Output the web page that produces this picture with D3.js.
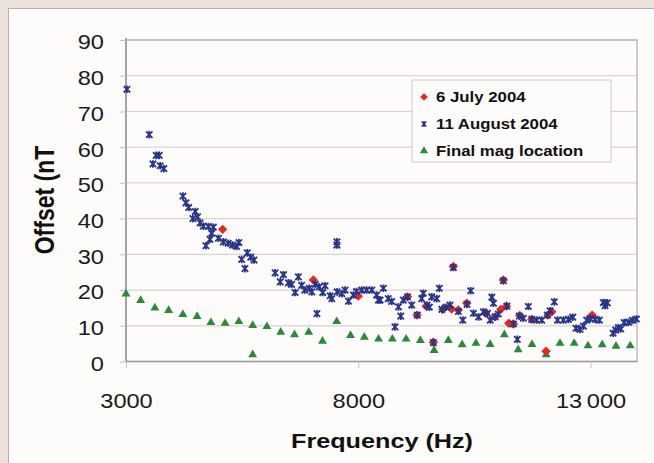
<!DOCTYPE html>
<html><head><meta charset="utf-8">
<script src="https://cdn.jsdelivr.net/npm/d3@7"></script>
<style>body{margin:0;background:#ece2db;}svg{display:block;}</style>
</head><body><svg id="c" width="654" height="463"></svg>
<script>
const yTicks = [0,10,20,30,40,50,60,70,80,90];
const xTicks = [3000,8000,13000];
const xTickLabels = ["3000","8000","13\u2009000"];
const seriesNames = ["6 July 2004","11 August 2004","Final mag location"];

const july = [[5080,37.0],[7033,22.8],[8000,18.3],[9060,18.1],[9265,13.0],[9460,15.5],[9617,5.4],[9820,14.6],[10010,14.7],[10047,26.6],[10155,14.4],[10336,16.3],[10745,13.5],[10945,12.5],[11070,14.6],[11123,22.8],[11190,15.5],[11240,10.7],[11340,10.5],[11475,12.9],[11733,11.8],[12042,2.9],[12085,13.0],[12166,13.9],[13035,13.0]];

const august = [[3020,76.2],[3500,63.5],[3580,55.3],[3650,57.7],[3715,57.7],[3735,54.8],[3815,54.0],[4225,46.3],[4290,44.4],[4350,43.1],[4440,40.0],[4490,42.0],[4540,40.5],[4595,38.8],[4665,37.9],[4720,32.4],[4775,37.8],[4808,34.2],[4845,35.9],[4880,37.6],[4990,34.5],[5095,33.5],[5200,33.1],[5295,32.6],[5380,32.2],[5430,33.3],[5490,28.6],[5560,26.0],[5610,30.4],[5685,29.2],[5755,28.4],[6210,24.8],[6320,22.3],[6390,24.3],[6495,22.0],[6565,21.6],[6640,19.3],[6710,23.7],[6780,21.3],[6850,20.0],[6945,20.5],[7000,19.5],[7075,21.6],[7110,13.4],[7160,20.9],[7235,19.3],[7285,21.2],[7395,18.4],[7430,17.6],[7540,33.5],[7540,32.6],[7545,19.5],[7645,19.0],[7715,20.0],[7790,16.9],[7895,18.6],[7960,19.6],[8075,20.0],[8180,20.0],[8290,20.0],[8395,18.6],[8435,17.2],[8470,17.2],[8540,20.5],[8645,17.6],[8720,16.8],[8790,9.7],[8865,15.3],[8915,12.7],[8970,17.2],[9060,18.1],[9150,15.8],[9270,13.0],[9365,17.6],[9400,19.1],[9480,15.8],[9530,15.2],[9580,18.1],[9617,5.3],[9690,17.6],[9745,20.5],[9800,14.6],[9890,15.2],[9975,15.8],[10047,26.3],[10155,14.0],[10250,11.6],[10340,16.0],[10420,19.8],[10480,13.5],[10590,12.5],[10695,13.9],[10780,13.5],[10840,11.6],[10875,18.0],[10910,16.3],[10945,12.5],[11015,13.3],[11123,22.6],[11200,15.5],[11340,10.5],[11424,6.2],[11467,12.7],[11553,12.1],[11661,15.4],[11733,11.8],[11841,11.6],[11949,11.6],[12070,13.0],[12128,14.2],[12220,16.7],[12290,11.6],[12415,11.6],[12523,11.8],[12617,12.4],[12688,9.3],[12774,9.0],[12846,9.9],[12918,11.6],[12990,12.0],[13097,11.8],[13190,11.6],[13276,16.5],[13312,15.6],[13362,16.4],[13485,7.9],[13541,8.8],[13600,9.5],[13650,9.1],[13723,10.9],[13816,11.0],[13902,11.5],[13988,11.9]];

const finalMag = [[3000,18.9],[3315,17.1],[3621,15.0],[3918,14.3],[4224,13.2],[4530,12.6],[4827,10.9],[5133,10.7],[5430,11.2],[5727,10.1],[5727,1.9],[6033,9.8],[6330,8.2],[6627,7.5],[6933,8.2],[7230,5.7],[7536,11.2],[7833,7.3],[8130,6.8],[8436,6.3],[8733,6.3],[9030,6.3],[9336,5.9],[9633,3.1],[9939,5.9],[10236,4.7],[10533,5.1],[10839,4.8],[11145,7.5],[11442,3.3],[11739,4.8],[12045,1.9],[12342,5.1],[12648,5.1],[12945,4.4],[13251,4.7],[13548,4.3],[13854,4.4]];

const svg = d3.select("#c");
const font="Liberation Sans, Arial, sans-serif";
const SX = 1.2; // horizontal stretch of the original artwork's text
// panel
svg.append("rect").attr("x",0).attr("y",0).attr("width",654).attr("height",463).attr("fill","#ece2db");
svg.append("rect").attr("x",8.5).attr("y",8.5).attr("width",660).attr("height",470).attr("fill","#fefcfb").attr("stroke","#b9b0ab").attr("stroke-width",1);

const L=126, R=637, T=40, B=361.5;
const x = d3.scaleLinear().domain([3000,14000]).range([L,R]);
const y = d3.scaleLinear().domain([0,90]).range([B,T]);

// gridlines
svg.append("g").selectAll("line").data(yTicks.filter(d=>d>0)).join("line")
  .attr("x1",L).attr("x2",R).attr("y1",d=>y(d)).attr("y2",d=>y(d))
  .attr("stroke","#ddd3d1").attr("stroke-width",1.2);
// plot frame
svg.append("rect").attr("x",L).attr("y",T).attr("width",R-L).attr("height",B-T)
  .attr("fill","none").attr("stroke","#b3acaa").attr("stroke-width",1.2);
svg.append("line").attr("x1",L).attr("x2",L).attr("y1",T-2).attr("y2",B).attr("stroke","#9c9897").attr("stroke-width",1.6);
svg.append("line").attr("x1",L).attr("x2",R).attr("y1",B).attr("y2",B).attr("stroke","#9c9897").attr("stroke-width",1.6);

// axes
const yAxis = d3.axisLeft(y).tickValues(yTicks).tickSize(6).tickPadding(14);
const gy = svg.append("g").attr("transform",`translate(${L},0)`).call(yAxis);
const xAxis = d3.axisBottom(x).tickValues(xTicks).tickSize(7).tickPadding(16).tickFormat((d,i)=>xTickLabels[i]);
const gx = svg.append("g").attr("transform",`translate(0,${B})`).call(xAxis);
[gx,gy].forEach(g=>{
  g.select(".domain").remove();
  g.selectAll(".tick line").attr("stroke","#c8c2c0").attr("stroke-width",1);
  g.selectAll(".tick text").attr("fill","#1a1a1a").style("font-family",font).style("font-size","20px");
});
gy.selectAll(".tick text").attr("x",null).attr("dy",null).attr("dominant-baseline","central")
  .attr("transform","translate(-22,2) scale(1.18,1)");
gx.selectAll(".tick text").attr("y",null).attr("dy",null)
  .attr("transform","translate(0,46) scale(1.18,1)");

// marker helpers
const diamond = d3.symbol().type(d3.symbolDiamond2).size(56);
const tri = d3.symbol().type(d3.symbolTriangle).size(34);
const red="#e8271f", blue="#283488", green="#2a8a3a";
function starX(g, cx, cy, s, w){
  g.append("path").attr("d",`M${cx-s},${cy-s}L${cx+s},${cy+s}M${cx-s},${cy+s}L${cx+s},${cy-s}M${cx},${cy-s-0.6}L${cx},${cy+s+0.6}`)
   .attr("stroke",blue).attr("stroke-width",w||1.8).attr("fill","none");
}

// final mag triangles
svg.append("g").selectAll("path").data(finalMag).join("path")
  .attr("d",tri).attr("transform",d=>`translate(${x(d[0])},${y(d[1])})`).attr("fill",green);
// July diamonds
svg.append("g").selectAll("path").data(july).join("path")
  .attr("d",diamond).attr("transform",d=>`translate(${x(d[0])},${y(d[1])})`).attr("fill",red);
// August stars
const ga = svg.append("g");
august.forEach(d=>starX(ga, x(d[0]), y(d[1]), 3.2));

// legend
const lg = svg.append("g");
lg.append("rect").attr("x",412).attr("y",80).attr("width",199).attr("height",82).attr("fill","#fefcfb").attr("stroke","#d2cac8").attr("stroke-width",1);
const ly=[97,124,151];
seriesNames.forEach((n,i)=>{
  lg.append("text").attr("transform",`translate(436,${ly[i]+5}) scale(1.12,1)`).text(n).attr("fill","#111")
   .style("font-family",font).style("font-size","15px").style("font-weight","bold");
});
lg.append("path").attr("d",d3.symbol().type(d3.symbolDiamond2).size(38)).attr("transform",`translate(424,${ly[0]})`).attr("fill",red);
starX(lg,424,ly[1],2.4,1.4);
lg.append("path").attr("d",d3.symbol().type(d3.symbolTriangle).size(28)).attr("transform",`translate(424,${ly[2]})`).attr("fill",green);

// axis titles
svg.append("text").attr("transform",`translate(382,448) scale(${SX},1)`).attr("text-anchor","middle").text("Frequency (Hz)")
  .attr("fill","#111").style("font-family",font).style("font-size","21px").style("font-weight","bold");
svg.append("text").attr("transform",`translate(54,200) scale(${SX},1) rotate(-90)`).attr("text-anchor","middle").text("Offset (nT")
  .attr("fill","#111").style("font-family",font).style("font-size","23px").style("font-weight","bold");
</script></body></html>
